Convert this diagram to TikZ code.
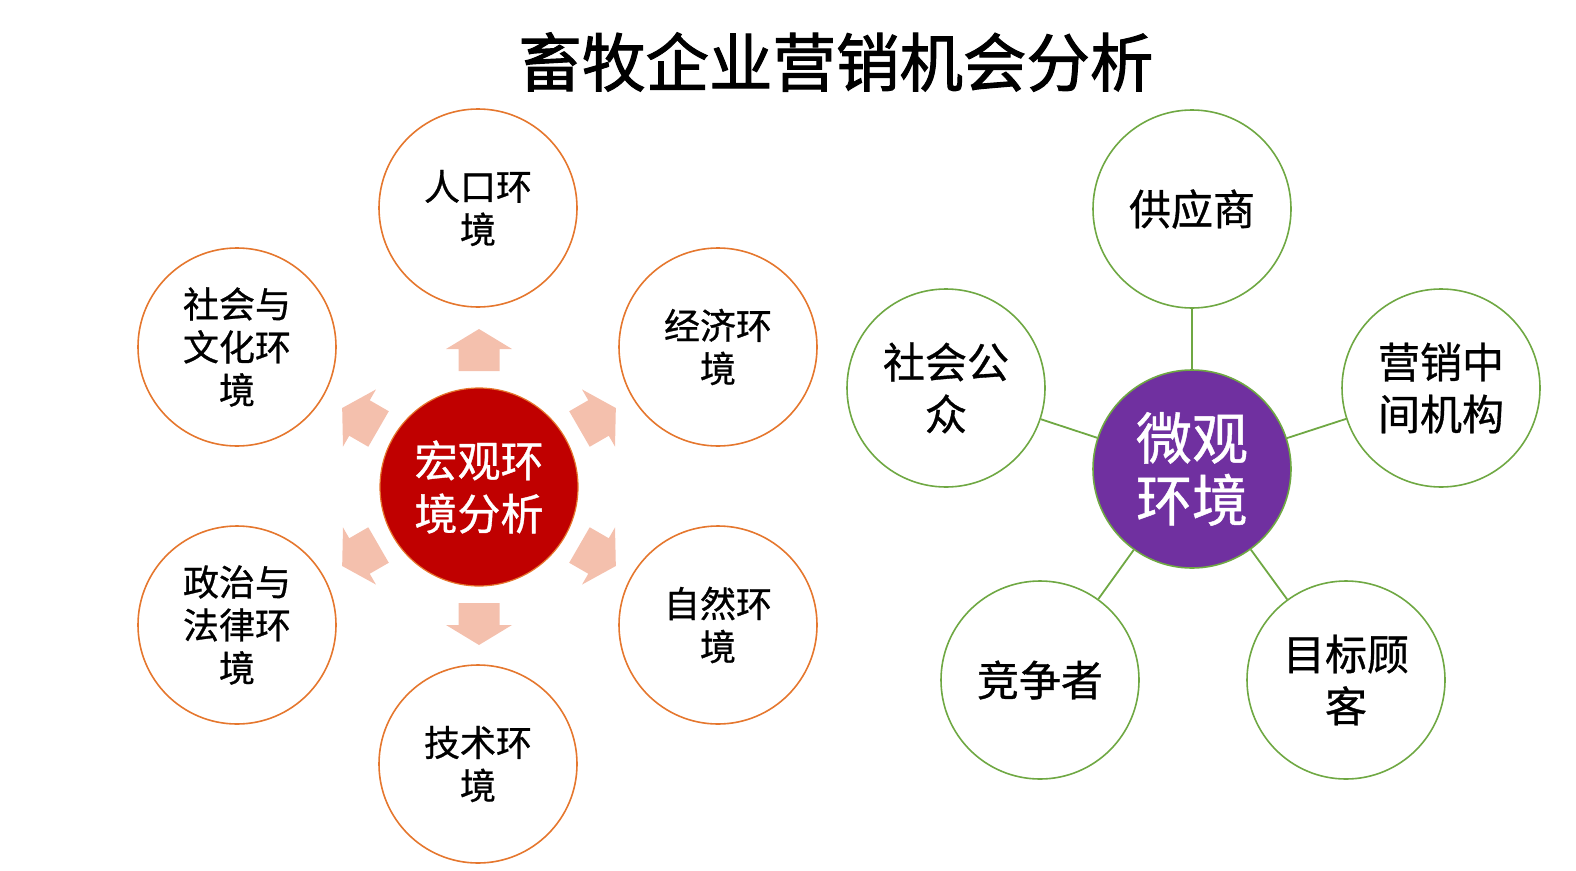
\documentclass[tikz,border=0pt]{standalone}
\usepackage{fontspec}
\setmainfont{Noto Sans CJK SC}
\newfontfamily\circfont{Noto Sans CJK SC}[FakeBold=0.8]
\newfontfamily\titlefont{Noto Sans CJK SC}[FakeBold=1.6]
\definecolor{orangeb}{HTML}{E5772E}
\definecolor{redc}{HTML}{C00000}
\definecolor{pinka}{HTML}{F4C0AD}
\definecolor{greenb}{HTML}{6FA843}
\definecolor{purplec}{HTML}{7030A0}
\tikzset{
  outerL/.style={circle, draw=orangeb, line width=1.6pt, minimum size=198pt, inner sep=0pt, align=center, font=\circfont\fontsize{36}{43}\selectfont},
  centerL/.style={circle, draw=orangeb, fill=redc, line width=1.2pt, minimum size=198pt, inner sep=0pt, align=center, text=white, font=\circfont\fontsize{43}{53}\selectfont},
  outerR/.style={circle, draw=greenb, line width=1.6pt, minimum size=198pt, inner sep=0pt, align=center, font=\circfont\fontsize{42}{52}\selectfont},
  centerR/.style={circle, draw=greenb, fill=purplec, line width=1.6pt, minimum size=198pt, inner sep=0pt, align=center, text=white, font=\circfont\fontsize{56}{62}\selectfont},
  conn/.style={draw=greenb, line width=1.8pt},
  bigarrow/.style={fill=pinka, draw=none}
}
\begin{document}
\begin{tikzpicture}[x=1pt,y=-1pt]
\useasboundingbox (0,0) rectangle (1576,870);
\node[font=\titlefont\fontsize{63.5}{70}\selectfont] (title) at (836,62) {畜牧企业营销机会分析};
% left group
\node[centerL] (lc) at (479,487) {宏观环\\境分析};
\node[outerL] (l1) at (478,208) {人口环\\境};
\node[outerL] (l2) at (718,347) {经济环\\境};
\node[outerL] (l3) at (718,625) {自然环\\境};
\node[outerL] (l4) at (478,764) {技术环\\境};
\node[outerL] (l5) at (237,625) {政治与\\法律环\\境};
\node[outerL] (l6) at (237,347) {社会与\\文化环\\境};
\foreach \a in {30,90,150,210,270,330}{
  \begin{scope}[shift={(lc.center)}, rotate=\a]
    \fill[bigarrow] (116,-20.5) -- (138,-20.5) -- (138,-33) -- (158,0) -- (138,33) -- (138,20.5) -- (116,20.5) -- cycle;
  \end{scope}
}
% right group
\node[centerR] (rc) at (1192,469) {微观\\环境};
\node[outerR] (r1) at (1192,209) {供应商};
\node[outerR] (r2) at (1441,388) {营销中\\间机构};
\node[outerR] (r3) at (1346,680) {目标顾\\客};
\node[outerR] (r4) at (1040,680) {竞争者};
\node[outerR] (r5) at (946,388) {社会公\\众};
\foreach \n in {r1,r2,r3,r4,r5}{
  \draw[conn] (rc) -- (\n);
}
\end{tikzpicture}
\end{document}
